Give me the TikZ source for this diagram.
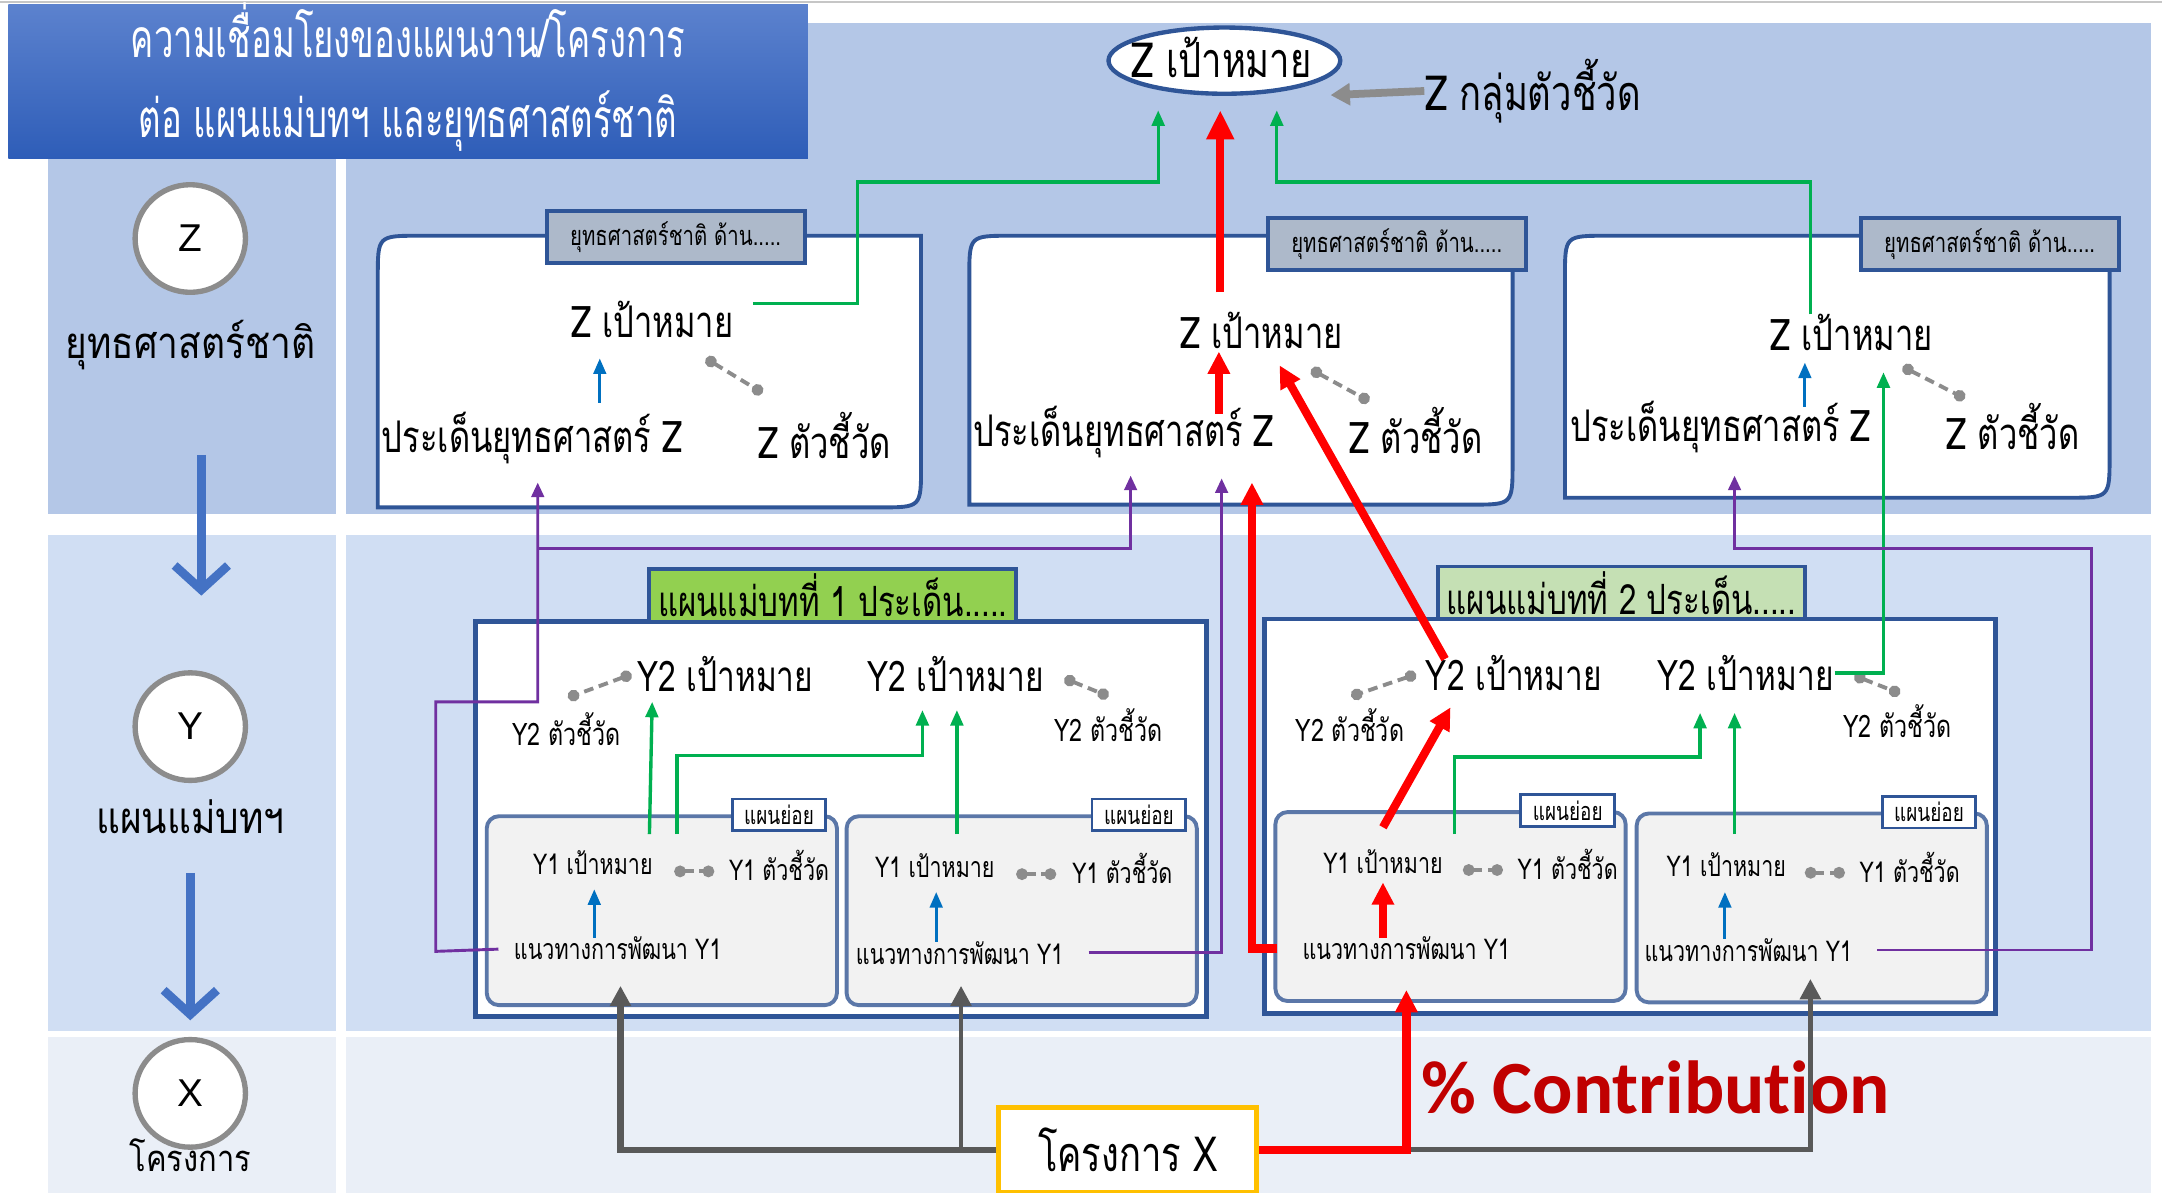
\documentclass[tikz,border=0pt]{standalone}
\usepackage{fontspec}
\setsansfont{Liberation Sans}
\newfontfamily\thai[Script=Thai]{Loma}
\newfontfamily\thaiw[Script=Thai,FakeStretch=0.85]{Loma}
\newfontfamily\thain[Script=Thai,FakeStretch=0.75]{Loma}
\newfontfamily\thaic[Script=Thai,FakeStretch=0.65]{Loma}
\newfontfamily\calib[Ligatures=NoCommon]{Carlito}
\usetikzlibrary{arrows.meta,shapes.geometric,positioning}
\definecolor{zbg}{HTML}{B4C7E7}
\definecolor{ybg}{HTML}{D0DEF3}
\definecolor{xbg}{HTML}{EAEFF7}
\definecolor{ttop}{HTML}{5C82CE}
\definecolor{tbot}{HTML}{2E5DB8}
\definecolor{frame}{HTML}{2F5597}
\definecolor{tabgray}{HTML}{ADB9CA}
\definecolor{grn}{HTML}{00B050}
\definecolor{purp}{HTML}{7030A0}
\definecolor{blu}{HTML}{0070C0}
\definecolor{dkgray}{HTML}{595959}
\definecolor{midgray}{HTML}{8C8C8C}
\definecolor{tabgreen}{HTML}{92D050}
\definecolor{tablight}{HTML}{C5E0B4}
\definecolor{subfill}{HTML}{F2F2F2}
\definecolor{subframe}{HTML}{5B77A8}
\definecolor{gold}{HTML}{FFC000}
\definecolor{dkred}{HTML}{C00000}
\definecolor{lvlblue}{HTML}{4472C4}
\tikzset{%
    level/.style={%
        draw=midgray, line width=1.1pt, fill=white, shape=ellipse,
        minimum width=0.8cm, minimum height=0.78cm, inner sep=0pt,
        font=\sffamily\fontsize{8}{9}\selectfont
    },
    leveltext/.style={font=\thaiw\fontsize{9}{10}\selectfont, inner sep=0pt},
    zpanel/.style={draw=frame, line width=0.8pt, fill=white},
    ztab/.style={%
        draw=frame, line width=0.8pt, fill=tabgray, minimum width=1.87cm,
        minimum height=0.38cm, inner sep=1pt, font=\thain\fontsize{5.6}{6}\selectfont
    },
    zlabel/.style={font=\thain\fontsize{9}{10}\selectfont, inner sep=0pt},
    ylabel/.style={font=\thain\fontsize{8.7}{10}\selectfont, inner sep=0pt},
    ysmall/.style={font=\thain\fontsize{6.4}{7}\selectfont, inner sep=0pt},
    y1label/.style={font=\thain\fontsize{5.9}{6.5}\selectfont, inner sep=0pt},
    ptab/.style={%
        draw=frame, line width=0.8pt, minimum width=2.66cm, minimum height=0.38cm,
        inner sep=1pt, font=\thain\fontsize{8.6}{10}\selectfont
    },
    subtab/.style={%
        draw=frame, line width=0.6pt, fill=white, minimum width=0.68cm,
        minimum height=0.23cm, inner sep=0pt, font=\thain\fontsize{5.2}{6}\selectfont
    },
    kpi/.style={%
        draw=midgray, dashed, line width=0.8pt, dash pattern=on 2pt off 1.2pt,
        {Circle[length=2.4pt]}-{Circle[length=2.4pt]}
    },
    upblue/.style={draw=blu, line width=0.6pt, -{Triangle[length=3.2pt,width=2.6pt]}},
    upgreen/.style={draw=grn, line width=0.7pt, -{Triangle[length=3.2pt,width=2.6pt]}},
    uppurple/.style={draw=purp, line width=0.6pt, -{Triangle[length=3pt,width=2.6pt]}},
    upred/.style={draw=red, line width=1.7pt, -{Triangle[length=4.6pt,width=4.4pt]}},
    upgray/.style={draw=dkgray, line width=1pt, -{Triangle[length=4.2pt,width=4.2pt]}},
    down/.style={draw=lvlblue, line width=1.8pt, -{Straight Barb[length=5pt,width=11pt]}}
}
\newcommand\zbox[4]{%
    \draw[zpanel] (#1,#4) -- (#1,#2+30) .. controls (#1,#2) .. (#1+30,#2)
        -- (#3,#2) -- (#3,#4-30) .. controls (#3,#4) .. (#3-30,#4) -- cycle;
}
\begin{document}
\begin{tikzpicture}[x=0.01cm,y=-0.01cm]
    \useasboundingbox (0,0) rectangle (1568,865);
    \fill[white] (0,0) rectangle (1568,865);
    \draw[gray!45, line width=0.6pt] (0,1.5) -- (1568,1.5);

    % lanes
    \fill[zbg] (35,115) rectangle (244,373);
    \fill[zbg] (251,17) rectangle (1560,373);
    \fill[ybg] (35,388) rectangle (244,748);
    \fill[ybg] (251,388) rectangle (1560,748);
    \fill[xbg] (35,752) rectangle (244,865);
    \fill[xbg] (251,752) rectangle (1560,865);

    \shade[top color=ttop, bottom color=tbot] (6,3) rectangle (586,115);
    \node[text=white, align=center, font=\thaic\fontsize{11}{16.5}\selectfont] (title) at (296,56)
        {ความเชื่อมโยงของแผนงาน/โครงการ\\ต่อ แผนแม่บทฯ และยุทธศาสตร์ชาติ};

    % left column
    \node[level] (cz) at (138,173) {Z};
    \node[leveltext] (lz) at (138,250) {ยุทธศาสตร์ชาติ};
    \node[level] (cy) at (138,527) {Y};
    \node[leveltext] (ly) at (138,592) {แผนแม่บทฯ};
    \node[level] (cx) at (138,793) {X};
    \node[leveltext, font=\thaiw\fontsize{7.5}{8}\selectfont] (lx) at (138,838) {โครงการ};
    \coordinate (dz) at (146,330);
    \coordinate (dy) at (146,432);
    \coordinate (dy2) at (138,633);
    \coordinate (dx) at (138,740);
    \draw[down] (dz) -- (dy);
    \draw[down] (dy2) -- (dx);

    % top goal
    \node[draw=frame, line width=0.9pt, fill=white, shape=ellipse, minimum width=1.68cm,
        minimum height=0.48cm, inner sep=0pt] (zgoal) at (888,44) {};
    \node[font=\thain\fontsize{10}{11}\selectfont, inner sep=0pt] (zgoaltxt) at (886,42) {Z เป้าหมาย};
    \node[ylabel, font=\thain\fontsize{10}{11}\selectfont, anchor=west] (zkpis) at (1033,66) {Z กลุ่มตัวชี้วัด};
    \coordinate (zin) at (965,69);
    \draw[draw=midgray, line width=1.6pt, -{Triangle[length=4pt,width=4.4pt]}] (zkpis.west) -- (zin);

    % strategy panels
    \zbox{274}{171}{668}{368}
    \zbox{703}{171}{1097}{366}
    \zbox{1135}{171}{1530}{361}
    \node[ztab] (zt1) at (490,172) {ยุทธศาสตร์ชาติ ด้าน.....};
    \node[ztab] (zt2) at (1013,177) {ยุทธศาสตร์ชาติ ด้าน.....};
    \node[ztab] (zt3) at (1443,177) {ยุทธศาสตร์ชาติ ด้าน.....};

    \node[zlabel] (zg1) at (473,232) {Z เป้าหมาย};
    \node[zlabel] (zp1) at (386,318) {ประเด็นยุทธศาสตร์ Z};
    \node[zlabel] (zk1) at (598,316) {Z ตัวชี้วัด};
    \node[zlabel] (zg2) at (915,240) {Z เป้าหมาย};
    \node[zlabel] (zp2) at (815,313) {ประเด็นยุทธศาสตร์ Z};
    \node[zlabel] (zk2) at (1027,312) {Z ตัวชี้วัด};
    \node[zlabel] (zg3) at (1343,241) {Z เป้าหมาย};
    \node[zlabel] (zp3) at (1248,310) {ประเด็นยุทธศาสตร์ Z};
    \node[zlabel] (zk3) at (1460,309) {Z ตัวชี้วัด};

    % master plans
    \draw[draw=frame, line width=1pt, fill=white] (345,451) rectangle (875,737);
    \draw[draw=frame, line width=1pt, fill=white] (917,449) rectangle (1447,735);
    \node[ptab, fill=tabgreen] (pt1) at (604,432) {แผนแม่บทที่ 1 ประเด็น.....};
    \node[ptab, fill=tablight] (pt2) at (1176,430) {แผนแม่บทที่ 2 ประเด็น.....};

    \node[ylabel] (yg1) at (526,489) {Y2 เป้าหมาย};
    \node[ysmall] (yk1) at (411,529) {Y2 ตัวชี้วัด};
    \node[ylabel] (yg2) at (693,489) {Y2 เป้าหมาย};
    \node[ysmall] (yk2) at (804,526) {Y2 ตัวชี้วัด};
    \node[ylabel] (yg3) at (1098,488) {Y2 เป้าหมาย};
    \node[ysmall] (yk3) at (979,526) {Y2 ตัวชี้วัด};
    \node[ylabel] (yg4) at (1266,488) {Y2 เป้าหมาย};
    \node[ysmall] (yk4) at (1376,523) {Y2 ตัวชี้วัด};

    % sub plans
    \foreach \x/\y/\n in {353/592/1, 614/592/2, 925/589/3, 1187/590/4} {
        \draw[draw=subframe, line width=0.8pt, fill=subfill, rounded corners=2.5pt]
            (\x,\y) rectangle (\x+254,\y+137);
        \node[subtab] (st\n) at (\x+212,\y-1) {แผนย่อย};
    }
    \node[y1label] (sg1) at (430,626) {Y1 เป้าหมาย};
    \node[y1label] (sk1) at (565,628) {Y1 ตัวชี้วัด};
    \node[y1label] (sd1) at (448,688) {แนวทางการพัฒนา Y1};
    \node[y1label] (sg2) at (678,628) {Y1 เป้าหมาย};
    \node[y1label] (sk2) at (814,630) {Y1 ตัวชี้วัด};
    \node[y1label] (sd2) at (696,691) {แนวทางการพัฒนา Y1};
    \node[y1label] (sg3) at (1003,625) {Y1 เป้าหมาย};
    \node[y1label] (sk3) at (1137,627) {Y1 ตัวชี้วัด};
    \node[y1label] (sd3) at (1020,688) {แนวทางการพัฒนา Y1};
    \node[y1label] (sg4) at (1252,627) {Y1 เป้าหมาย};
    \node[y1label] (sk4) at (1385,629) {Y1 ตัวชี้วัด};
    \node[y1label] (sd4) at (1268,689) {แนวทางการพัฒนา Y1};

    % project
    \node[draw=gold, line width=1pt, fill=white, minimum width=1.87cm, minimum height=0.62cm,
        font=\thain\fontsize{10}{11}\selectfont] (proj) at (818,834) {โครงการ X};
    \node[anchor=west, inner sep=0pt, text=dkred, font=\calib\bfseries\fontsize{15.5}{17}\selectfont]
        (pct) at (1030,789) {\% Contribution};

    % indicator links
    \foreach \a/\b/\c/\d in {512/260/553/285, 951/268/993/291, 1380/266/1425/289,
        458/489/412/506, 772/492/804/505, 1027/489/980/505, 1345/490/1378/503,
        489/632/518/632, 737/634/766/634, 1061/631/1090/631, 1309/633/1338/633} {
        \draw[kpi] (\a,\b) -- (\c,\d);
    }

    % inner arrows
    \foreach \x/\a/\b in {435/292/260, 1309/295/263, 431/680/645, 679/683/647, 1251/681/647} {
        \draw[upblue] (\x,\a) -- (\x,\b);
    }
    \coordinate (rz1) at (884,300);
    \coordinate (rz2) at (884,255);
    \draw[upred] (rz1) -- (rz2);
    \coordinate (ry1) at (1003,680);
    \coordinate (ry2) at (1003,640);
    \draw[upred] (ry1) -- (ry2);

    % green links
    \coordinate (ga1) at (622,132);
    \coordinate (zinl) at (840,80);
    \coordinate (zinm) at (885,80);
    \coordinate (zinr) at (926,80);
    \coordinate (gs1) at (546,220);
    \coordinate (gs3) at (1313,228);
    \coordinate (rs2) at (885,212);
    \draw[upgreen] (gs1) -| (ga1) -| (zinl);
    \draw[upgreen] (gs3) |- (ga1 -| zinr) -- (zinr);
    \draw[upred, -{Triangle[length=6pt,width=5.4pt]}] (rs2) -- (zinm);

    \coordinate (s1a) at (471,605);
    \coordinate (s1b) at (491,605);
    \coordinate (s2a) at (694,605);
    \coordinate (s3a) at (1055,605);
    \coordinate (s4a) at (1258,605);
    \coordinate (y1in) at (473,509);
    \coordinate (y2in) at (669,515);
    \coordinate (y2inb) at (694,515);
    \coordinate (y4in) at (1233,517);
    \coordinate (y4inb) at (1258,517);
    \draw[upgreen] (s1a) -- (y1in);
    \draw[upgreen] (s1b) |- ++(0,-57) -| (y2in);
    \draw[upgreen] (s2a) -- (y2inb);
    \draw[upgreen] (s3a) |- ++(0,-56) -| (y4in);
    \draw[upgreen] (s4a) -- (y4inb);
    \coordinate (zin3) at (1366,270);
    \draw[upgreen] (yg4.east) -| (zin3);

    % red contribution path
    \coordinate (s3top) at (1003,600);
    \coordinate (y3in) at (1052,513);
    \coordinate (y3out) at (1048,478);
    \coordinate (z2in) at (928,265);
    \draw[upred] (s3top) -- (y3in);
    \draw[upred] (y3out) -- (z2in);
    \coordinate (r3) at (908,688);
    \coordinate (z2inb) at (908,350);
    \draw[upred, shorten <=5pt] (sd3.west) -- (r3) -- (z2inb);

    % purple links
    \coordinate (pa) at (316,690);
    \coordinate (pb) at (390,509);
    \coordinate (z1in) at (390,350);
    \coordinate (pc) at (390,398);
    \coordinate (z2inp) at (820,345);
    \coordinate (z2inq) at (886,347);
    \coordinate (z3in) at (1258,345);
    \coordinate (pd) at (1517,398);
    \draw[uppurple, shorten <=3pt] (sd1.west) -- (pa) |- (pb) -- (z1in);
    \draw[uppurple] (pc) -| (z2inp);
    \draw[uppurple, shorten <=5pt] (sd2.east) -| (z2inq);
    \draw[uppurple, shorten <=5pt] (sd4.east) -| (pd) -| (z3in);

    % project links
    \coordinate (x1) at (450,715);
    \coordinate (x2) at (697,715);
    \coordinate (x3) at (1020,718);
    \coordinate (x4) at (1313,710);
    \draw[upgray, line width=1.4pt] (proj.west) -| (x1);
    \draw[upgray] (x2 |- proj.west) -- (x2);
    \draw[upgray] (x3 |- proj.east) -| (x4);
    \draw[upred] (proj.east) -| (x3);
\end{tikzpicture}
\end{document}
